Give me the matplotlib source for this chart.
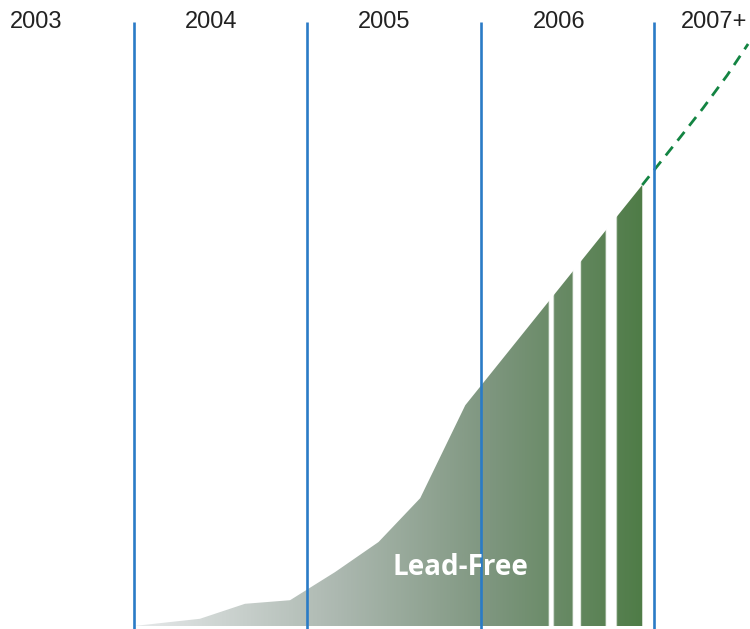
import numpy as np
import matplotlib
matplotlib.use("Agg")
import matplotlib.pyplot as plt
from matplotlib.colors import LinearSegmentedColormap
from matplotlib.patches import Polygon

# adoption curve (year, relative volume 0-100)
years = [2004.0, 2004.38, 2004.64, 2004.90, 2005.16, 2005.41, 2005.65, 2005.91, 2006.93]
volume = [0.0, 1.2, 3.7, 4.3, 9.0, 14.0, 21.3, 36.8, 73.5]

# projection beyond 2006
proj_years = [2006.93, 2007.04, 2007.15, 2007.28, 2007.42, 2007.54]
proj_volume = [73.5, 77.5, 81.5, 86.3, 91.8, 97.0]

# white gaps in the filled area
gaps = [(2006.392, 2006.415), (2006.530, 2006.571), (2006.720, 2006.778)]

boundaries = [2004, 2005, 2006, 2007]
labels = ["2003", "2004", "2005", "2006", "2007+"]
label_x = [2003.435, 2004.444, 2005.441, 2006.451, 2007.346]

x0, x1 = 2003.228, 2007.551
y0, y1 = -0.5, 104.33

fig = plt.figure(figsize=(7.5, 6.29), dpi=100)
ax = fig.add_axes([0, 0, 1, 1])
ax.set_xlim(x0, x1)
ax.set_ylim(y0, y1)
ax.axis("off")

# gradient fill clipped to the area
cmap = LinearSegmentedColormap.from_list(
    "lf", [(0.0, "#e6e9ea"), (0.4, "#acb8b0"), (0.7, "#7e967f"), (1.0, "#4f7c47")])
xs = np.linspace(years[0], years[-1], 800)
grad = cmap((xs - xs[0]) / (xs[-1] - xs[0]))[None, :, :3].copy()
for a, b in gaps:
    w = np.clip(1 - np.maximum(np.maximum(a - xs, xs - b), 0) / 0.006, 0, 1)
    grad[0] = grad[0] * (1 - w[:, None]) + w[:, None]
img = ax.imshow(grad, extent=[years[0], years[-1], 0, max(volume)],
                aspect="auto", origin="lower", interpolation="bilinear", zorder=1)
poly = Polygon(list(zip(years, volume)) + [(years[-1], 0)], closed=True,
               facecolor="none", edgecolor="none")
ax.add_patch(poly)
img.set_clip_path(poly)

ax.plot(proj_years, proj_volume, color="#138442", lw=2.0, ls=(0, (4, 2.8)), zorder=2)

ax.vlines(boundaries, -1, 100.7, color="#2a7bc6", lw=1.9, zorder=3)

for lx, t in zip(label_x, labels):
    ax.text(lx, 100.7, t, ha="center", va="center", fontsize=17,
            family="Liberation Sans", color="#222222")

ax.text(2005.88, 9.7, "Lead-Free", ha="center", va="center", fontsize=20,
        family="Open Sans", fontweight="bold", color="white", zorder=4)

fig.savefig("out.png", dpi=100)
